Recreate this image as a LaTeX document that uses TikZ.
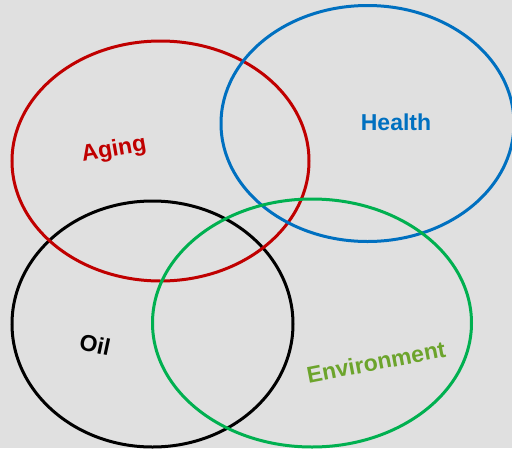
\documentclass[tikz,border=0pt]{standalone}
\usepackage{fontspec}
\setmainfont{Liberation Sans}
\definecolor{agered}{RGB}{192,0,0}
\definecolor{healthblue}{RGB}{0,112,192}
\definecolor{envgreen}{RGB}{0,176,80}
\definecolor{envtext}{RGB}{108,164,44}
\definecolor{bggray}{RGB}{224,224,224}
\tikzset{
  ring/.style={line width=3pt},
  label/.style={font=\fontsize{23}{23}\selectfont\bfseries, inner sep=0pt}
}
\begin{document}
\begin{tikzpicture}[x=1pt,y=-1pt]
    \useasboundingbox (0,0) rectangle (512,448);
    \fill[bggray] (0,0) rectangle (512,448);

    \draw[ring, black] (152.5,324) ellipse (140.5pt and 123pt);
    \draw[ring, agered] (160.5,161) ellipse (148.5pt and 120pt);
    \draw[ring, healthblue] (367.5,123.5) ellipse (146.5pt and 118pt);
    \draw[ring, envgreen] (312,323) ellipse (159.5pt and 124pt);

    \node[label, agered, rotate=10] (aging) at (114,150) {Aging};
    \node[label, healthblue] (health) at (396,122) {Health};
    \node[label, black, rotate=-12] (oil) at (95,345) {Oil};
    \node[label, envtext, rotate=11] (env) at (376,362) {Environment};
\end{tikzpicture}
\end{document}
